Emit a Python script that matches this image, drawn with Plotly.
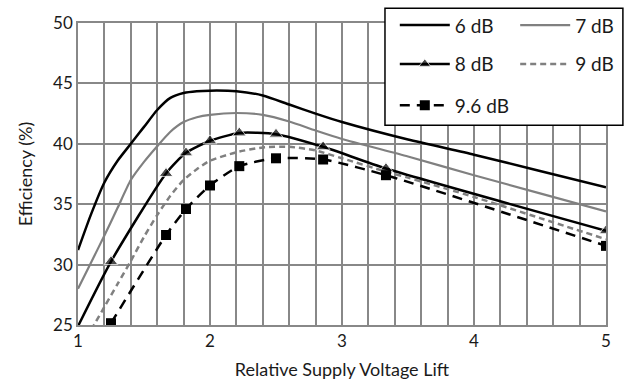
import plotly.graph_objects as go

# ---------------- data ----------------
x_6db = [1.0, 1.1, 1.2, 1.3, 1.4, 1.5, 1.6, 1.7, 1.8, 1.9, 2.0, 2.2, 2.4, 2.6, 2.8, 3.0, 3.5, 4.0, 4.5, 5.0]
y_6db = [31.2, 34.2, 36.8, 38.6, 40.0, 41.4, 42.8, 43.8, 44.2, 44.35, 44.4, 44.35, 44.0, 43.25, 42.5, 41.8, 40.35, 39.1, 37.75, 36.4]

x_7db = [1.0, 1.1, 1.2, 1.3, 1.4, 1.5, 1.6, 1.7, 1.8, 1.9, 2.0, 2.2, 2.4, 2.6, 2.8, 3.0, 3.5, 4.0, 4.5, 5.0]
y_7db = [28.0, 30.2, 32.4, 34.7, 37.0, 38.5, 39.8, 41.0, 41.8, 42.2, 42.4, 42.55, 42.4, 41.85, 41.1, 40.4, 38.95, 37.4, 35.9, 34.4]

x_8db = [1.0, 1.25, 1.667, 1.818, 2.0, 2.222, 2.5, 2.857, 3.333, 5.0]
y_8db = [24.9, 30.25, 37.55, 39.25, 40.25, 40.9, 40.8, 39.75, 37.95, 32.8]
marker_8db = [False, True, True, True, True, True, True, True, True, True]

x_9db = [1.1, 1.2, 1.3, 1.4, 1.5, 1.6, 1.7, 1.8, 1.9, 2.0, 2.2, 2.4, 2.6, 2.8, 3.0, 3.333, 3.5, 4.0, 4.5, 5.0]
y_9db = [24.6, 26.5, 28.4, 30.3, 32.3, 34.1, 35.7, 37.0, 37.9, 38.6, 39.3, 39.7, 39.75, 39.45, 38.8, 37.7, 37.2, 35.6, 33.85, 32.1]

x_96db = [1.25, 1.667, 1.818, 2.0, 2.222, 2.5, 2.857, 3.333, 5.0]
y_96db = [25.15, 32.45, 34.6, 36.55, 38.15, 38.8, 38.7, 37.4, 31.55]

x_ticks = [1, 2, 3, 4, 5]
y_ticks = [25, 30, 35, 40, 45, 50]

FONT = "Lato"
BLACK = "#000000"
GRAY = "#808080"
TXT = "#1a1a1a"

fig = go.Figure()

fig.add_trace(go.Scatter(
    x=x_6db, y=y_6db, mode="lines", name="6 dB",
    line=dict(color=BLACK, width=2.5, shape="spline", smoothing=0.6),
    legend="legend"))
fig.add_trace(go.Scatter(
    x=x_7db, y=y_7db, mode="lines", name="7 dB",
    line=dict(color=GRAY, width=2.2, shape="spline", smoothing=0.6),
    legend="legend2"))
fig.add_trace(go.Scatter(
    x=x_8db, y=y_8db, mode="lines+markers", name="8 dB",
    line=dict(color=BLACK, width=2.5, shape="spline", smoothing=0.6),
    marker=dict(symbol="triangle-up", color=BLACK,
                size=[12 if m else 0 for m in marker_8db]),
    legend="legend3"))
fig.add_trace(go.Scatter(
    x=x_9db, y=y_9db, mode="lines", name="9 dB",
    line=dict(color=GRAY, width=2.5, dash="6px,4px", shape="spline", smoothing=0.6),
    legend="legend4"))
fig.add_trace(go.Scatter(
    x=x_96db, y=y_96db, mode="lines+markers", name="9.6 dB",
    line=dict(color=BLACK, width=2.5, dash="10px,7px", shape="spline", smoothing=0.6),
    marker=dict(symbol="square", color=BLACK, size=10),
    legend="legend5"))

# legend frame (white box with black border)
fig.add_shape(type="rect", xref="paper", yref="paper",
              x0=0.5814, x1=1.032, y0=0.6616, y1=1.0486,
              fillcolor="white", line=dict(color=BLACK, width=1.5), layer="above")

leg_common = dict(bgcolor="rgba(0,0,0,0)", borderwidth=0, xanchor="left", yanchor="middle",
                  font=dict(family=FONT, size=19, color=TXT), itemwidth=50)
col1 = 0.600
col2 = 0.828
row1, row2, row3 = 0.9925, 0.8635, 0.7274

fig.update_layout(
    width=624, height=384,
    margin=dict(l=78, r=18, t=23, b=59, autoexpand=False),
    paper_bgcolor="white", plot_bgcolor="white",
    showlegend=True,
    font=dict(family=FONT, size=17, color=TXT),
    legend=dict(x=col1, y=row1, **leg_common),
    legend2=dict(x=col2, y=row1, **leg_common),
    legend3=dict(x=col1, y=row2, **leg_common),
    legend4=dict(x=col2, y=row2, **leg_common),
    legend5=dict(x=col1, y=row3, **leg_common),
    xaxis=dict(range=[1, 5], tickvals=x_ticks, ticks="", showgrid=True,
               gridcolor="#888888", gridwidth=1.5,
               minor=dict(dtick=0.2, showgrid=True, gridcolor="#888888", gridwidth=1.5),
               showline=True, linecolor="#888888", linewidth=1.5, mirror=True,
               zeroline=False, tickfont=dict(size=17, color=TXT),
               title=dict(text="Relative Supply Voltage Lift", font=dict(size=18, color=TXT), standoff=13)),
    yaxis=dict(range=[25, 50], tickvals=y_ticks, ticks="", showgrid=True,
               gridcolor="#888888", gridwidth=1.5,
               showline=True, linecolor="#888888", linewidth=1.5, mirror=True,
               zeroline=False, tickfont=dict(size=17, color=TXT),
               title=dict(text="Efficiency (%)", font=dict(size=18, color=TXT), standoff=16)),
)

fig.write_html("out.html")
